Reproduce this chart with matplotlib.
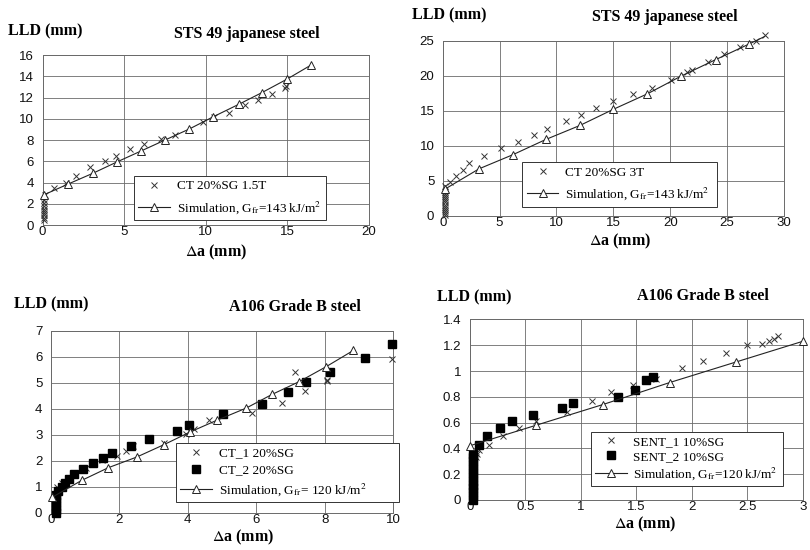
import matplotlib
matplotlib.use("Agg")
import matplotlib.pyplot as plt
from matplotlib.lines import Line2D
from matplotlib.ticker import FuncFormatter

plt.rcParams["mathtext.fontset"] = "stix"

W, H = 810, 550

# --- STS 49, CT 20%SG 1.5T -------------------------------------------------
ct15_stack_y = [0.5, 0.7, 0.9, 1.1, 1.3, 1.5, 1.8, 2.1, 2.4]
ct15_x = [0.15, 0.7, 1.45, 2.05, 2.9, 3.85, 4.5, 5.35, 6.25, 7.25, 8.1, 9.85,
          10.55, 11.45, 12.4, 13.2, 14.05, 14.9, 14.95]
ct15_y = [2.8, 3.45, 4.0, 4.65, 5.45, 6.0, 6.5, 7.15, 7.6, 8.05, 8.5, 9.7,
          10.2, 10.5, 11.3, 11.75, 12.3, 12.9, 13.05]
sim1_x = [0.1, 1.58, 3.08, 4.59, 6.04, 7.52, 9.0, 10.48, 12.07, 13.45, 14.98, 16.47]
sim1_y = [2.85, 3.86, 4.86, 5.95, 6.96, 8.0, 9.03, 10.19, 11.38, 12.45, 13.71, 15.05]

# --- STS 49, CT 20%SG 3T ---------------------------------------------------
ct3_stack_y = [0.1, 0.4, 0.7, 1.0, 1.3, 1.6, 1.9, 2.2, 2.5, 2.8, 3.1, 3.4]
ct3_x = [0.2, 0.64, 1.17, 1.76, 2.34, 3.63, 5.12, 6.59, 8.02, 9.19, 10.83, 12.15,
         13.44, 14.99, 16.75, 18.37, 20.06, 21.44, 21.88, 23.34, 24.75, 26.12,
         27.53, 28.32]
ct3_y = [4.3, 4.78, 5.64, 6.55, 7.56, 8.6, 9.7, 10.6, 11.57, 12.38, 13.5, 14.44,
         15.44, 16.4, 17.35, 18.3, 19.36, 20.55, 20.8, 21.9, 23.04, 24.05,
         25.0, 25.8]
sim2_x = [0.2, 3.2, 6.15, 9.08, 12.07, 15.0, 17.98, 20.94, 24.0, 26.9, 28.3]
sim2_y = [3.8, 6.7, 8.7, 10.9, 12.9, 15.2, 17.4, 19.93, 22.3, 24.5, 25.6]

# --- A106 Grade B, CT_1 / CT_2 ---------------------------------------------
ct1_x = [0.17, 0.32, 0.55, 1.03, 1.5, 1.93, 2.2, 2.41, 3.31, 3.95, 4.18, 4.63,
         5.86, 6.76, 7.13, 7.43, 8.05, 8.05, 9.95]
ct1_y = [1.0, 1.13, 1.3, 1.71, 2.02, 2.2, 2.37, 2.55, 2.68, 3.04, 3.23, 3.55,
         3.85, 4.23, 5.4, 4.68, 5.05, 5.12, 5.9]
ct2_x = [0.15, 0.15, 0.15, 0.15, 0.15, 0.15, 0.22, 0.32, 0.42, 0.54, 0.68, 0.95,
         1.23, 1.52, 1.8, 2.33, 2.88, 3.68, 4.04, 5.04, 6.16, 6.93, 7.44, 8.15,
         9.17, 9.95]
ct2_y = [0.0, 0.1, 0.25, 0.4, 0.55, 0.7, 0.84, 1.0, 1.13, 1.28, 1.47, 1.7,
         1.92, 2.12, 2.31, 2.56, 2.85, 3.14, 3.38, 3.78, 4.2, 4.63, 5.04, 5.42,
         5.96, 6.48]
sim3_x = [0.05, 0.9, 1.68, 2.51, 3.31, 4.06, 4.84, 5.7, 6.46, 7.25, 8.03, 8.83]
sim3_y = [0.6, 1.24, 1.73, 2.14, 2.62, 3.1, 3.55, 4.02, 4.55, 5.04, 5.61, 6.24]

# --- A106 Grade B, SENT_1 / SENT_2 -----------------------------------------
sent1_x = [0.06, 0.07, 0.08, 0.17, 0.3, 0.44, 0.6, 0.88, 1.1, 1.27, 1.47, 1.68,
           1.91, 2.1, 2.31, 2.5, 2.63, 2.7, 2.74, 2.78]
sent1_y = [0.33, 0.36, 0.39, 0.43, 0.5, 0.56, 0.61, 0.68, 0.77, 0.84, 0.89, 0.94,
           1.02, 1.08, 1.14, 1.2, 1.21, 1.23, 1.25, 1.27]
sent2_stack_y = [0.0, 0.03, 0.06, 0.09, 0.12, 0.15, 0.18, 0.21, 0.24, 0.27, 0.3,
                 0.33, 0.36]
sent2_x = [0.08, 0.16, 0.27, 0.38, 0.57, 0.83, 0.93, 1.34, 1.49, 1.59, 1.65]
sent2_y = [0.43, 0.5, 0.56, 0.61, 0.66, 0.71, 0.75, 0.8, 0.85, 0.93, 0.95]
sim4_x = [0.0, 0.6, 1.2, 1.8, 2.4, 3.0]
sim4_y = [0.42, 0.58, 0.74, 0.91, 1.07, 1.23]

SERIF = "Liberation Serif"
SANS = "Liberation Sans"
GRID = "#6a6a6a"


def px_axes(fig, left, right, top, bottom):
    return fig.add_axes([left / W, 1 - bottom / H, (right - left) / W, (bottom - top) / H])


def style_axes(ax, xmax, xstep, ymax, ystep):
    ax.set_xlim(0, xmax)
    ax.set_ylim(0, ymax)
    n = int(round(xmax / xstep))
    ax.set_xticks([i * xstep for i in range(n + 1)])
    m = int(round(ymax / ystep))
    ax.set_yticks([i * ystep for i in range(m + 1)])
    fmt = FuncFormatter(lambda v, p: f"{v:g}")
    ax.xaxis.set_major_formatter(fmt)
    ax.yaxis.set_major_formatter(fmt)
    ax.grid(True, color=GRID, lw=0.6)
    ax.set_axisbelow(True)
    for s in ax.spines.values():
        s.set_color(GRID)
        s.set_linewidth(0.7)
    ax.tick_params(length=0, labelsize=9.5, colors="#111111")
    ax.tick_params(axis="x", pad=1)
    ax.tick_params(axis="y", pad=6)
    for lab in ax.get_xticklabels() + ax.get_yticklabels():
        lab.set_fontfamily(SANS)


def crosses(ax, x, y):
    ax.plot(x, y, ls="none", marker="x", ms=4.5, mew=0.7, color="#333333", clip_on=False, zorder=3)


def squares(ax, x, y):
    ax.plot(x, y, ls="none", marker="s", ms=5.5, color="black", clip_on=False, zorder=3)


def simulation(ax, x, y, markevery=None):
    ax.plot(x, y, "-", color="#222222", lw=0.8, marker="^", ms=6, mfc="white", mec="#222222",
            mew=0.7, markevery=markevery, clip_on=False, zorder=4)


def legend(ax, entries, labels, bbox, spacing, pad):
    handles = []
    for kind in entries:
        if kind == "x":
            handles.append(Line2D([], [], ls="none", marker="x", ms=4.5, mew=0.7, color="#333333"))
        elif kind == "s":
            handles.append(Line2D([], [], ls="none", marker="s", ms=5.5, color="black"))
        else:
            handles.append(Line2D([], [], ls="-", lw=0.8, color="#222222", marker="^", ms=6,
                                  mfc="white", mec="#222222", mew=0.7))
    leg = ax.legend(handles, labels, loc="upper left", bbox_to_anchor=bbox, mode="expand",
                    fancybox=False, framealpha=1, edgecolor="#333333", borderaxespad=0,
                    prop={"family": SERIF, "size": 9.5}, handlelength=2.4, handletextpad=0.5,
                    labelspacing=spacing, borderpad=pad)
    leg.get_frame().set_linewidth(0.7)
    leg.set_zorder(5)


def fig_text(fig, x, y, s, **kw):
    fig.text(x / W, 1 - y / H, s, family=SERIF, fontweight="bold", va="center", **kw)


fig = plt.figure(figsize=(W / 100, H / 100), dpi=100)
XLAB = "$\\Delta$a (mm)"

# top left
ax1 = px_axes(fig, 42.5, 368.5, 55, 225)
style_axes(ax1, 20, 5, 16, 2)
crosses(ax1, [0.1] * len(ct15_stack_y), ct15_stack_y)
crosses(ax1, ct15_x, ct15_y)
simulation(ax1, sim1_x, sim1_y)
legend(ax1, ["x", "t"], ["CT 20%SG 1.5T", "Simulation, G$_{\\mathrm{fr}}$=143 kJ/m$^{2}$"],
       (0.28, 0.035, 0.59, 0.255), 0.5, 0.34)
fig_text(fig, 8, 31, "LLD (mm)", fontsize=11.5, ha="left")
fig_text(fig, 247, 34, "STS 49 japanese steel", fontsize=11.5, ha="center")
fig_text(fig, 216, 252, XLAB, fontsize=11.5, ha="center")

# top right
ax2 = px_axes(fig, 442.7, 784, 40.7, 215.7)
style_axes(ax2, 30, 5, 25, 5)
crosses(ax2, [0.2] * len(ct3_stack_y), ct3_stack_y)
crosses(ax2, ct3_x, ct3_y)
simulation(ax2, sim2_x, sim2_y, markevery=list(range(len(sim2_x) - 1)))
legend(ax2, ["x", "t"], ["CT 20%SG 3T", "Simulation, G$_{\\mathrm{fr}}$=143 kJ/m$^{2}$"],
       (0.233, 0.07, 0.57, 0.235), 0.5, 0.34)
fig_text(fig, 412, 15, "LLD (mm)", fontsize=11.5, ha="left")
fig_text(fig, 665, 17, "STS 49 japanese steel", fontsize=11.5, ha="center")
fig_text(fig, 620, 241, XLAB, fontsize=11.5, ha="center")

# bottom left
ax3 = px_axes(fig, 50.7, 393.4, 330.7, 512.7)
style_axes(ax3, 10, 2, 7, 1)
crosses(ax3, ct1_x, ct1_y)
squares(ax3, ct2_x, ct2_y)
simulation(ax3, sim3_x, sim3_y)
legend(ax3, ["x", "s", "t"], ["CT_1 20%SG", "CT_2 20%SG", "Simulation, G$_{\\mathrm{fr}}$= 120 kJ/m$^{2}$"],
       (0.365, 0.064, 0.652, 0.32), 0.35, 0.35)
fig_text(fig, 14, 304, "LLD (mm)", fontsize=11.5, ha="left")
fig_text(fig, 295, 307, "A106 Grade B steel", fontsize=11.5, ha="center")
fig_text(fig, 243, 537, XLAB, fontsize=11.5, ha="center")

# bottom right
ax4 = px_axes(fig, 469.7, 802.7, 319.4, 500)
style_axes(ax4, 3, 0.5, 1.4, 0.2)
crosses(ax4, sent1_x, sent1_y)
squares(ax4, [0.03] * len(sent2_stack_y), sent2_stack_y)
squares(ax4, sent2_x, sent2_y)
simulation(ax4, sim4_x, sim4_y)
legend(ax4, ["x", "s", "t"], ["SENT_1 10%SG", "SENT_2 10%SG", "Simulation, G$_{\\mathrm{fr}}$=120 kJ/m$^{2}$"],
       (0.364, 0.083, 0.576, 0.295), 0.2, 0.3)
fig_text(fig, 437, 297, "LLD (mm)", fontsize=11.5, ha="left")
fig_text(fig, 703, 296, "A106 Grade B steel", fontsize=11.5, ha="center")
fig_text(fig, 645, 524, XLAB, fontsize=11.5, ha="center")

fig.savefig("out.png", dpi=100, facecolor="white")
